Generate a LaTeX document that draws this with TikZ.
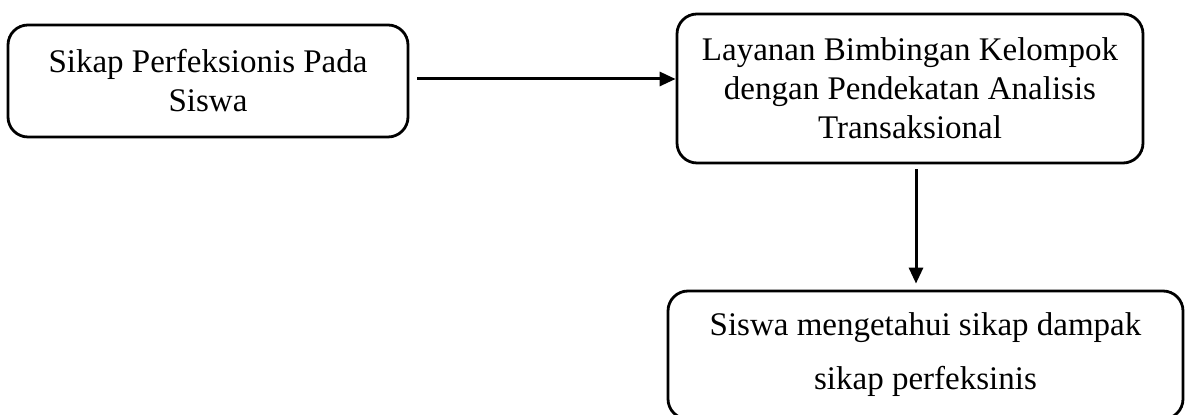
\documentclass[tikz,border=0pt]{standalone}
\usepackage{fontspec}
\setmainfont{Liberation Serif}
\usetikzlibrary{arrows.meta}

\begin{document}
\begin{tikzpicture}[x=0.5pt, y=-0.5pt,
    kotak/.style={draw, line width=1.4pt, rounded corners=10pt, align=center,
        inner sep=0pt, font=\fontsize{16.5}{19.5}\selectfont},
    panah/.style={line width=1.5pt, -{Triangle[length=8pt, width=7pt]}}]
    \useasboundingbox (0,0) rectangle (1193,415);
    \node[kotak, minimum width=200pt, minimum height=56pt] (sikap) at (208,81)
        {Sikap Perfeksionis Pada\\Siswa};
    \node[kotak, minimum width=233pt, minimum height=74.5pt] (layanan) at (910,88.5)
        {Layanan Bimbingan Kelompok\\dengan Pendekatan Analisis\\Transaksional};
    \node[kotak, minimum width=257.5pt, minimum height=64pt,
        font=\fontsize{16.5}{27}\selectfont] (hasil) at (925.5,355)
        {Siswa mengetahui sikap dampak\\sikap perfeksinis};
    \draw[panah] ([xshift=4pt, yshift=1pt]sikap.east) -- ([yshift=1pt]sikap.east -| layanan.west);
    \draw[panah, shorten >=3pt] ([xshift=3pt, yshift=-2.5pt]layanan.south) -- ([xshift=3pt]layanan.south |- hasil.north);
\end{tikzpicture}
\end{document}
